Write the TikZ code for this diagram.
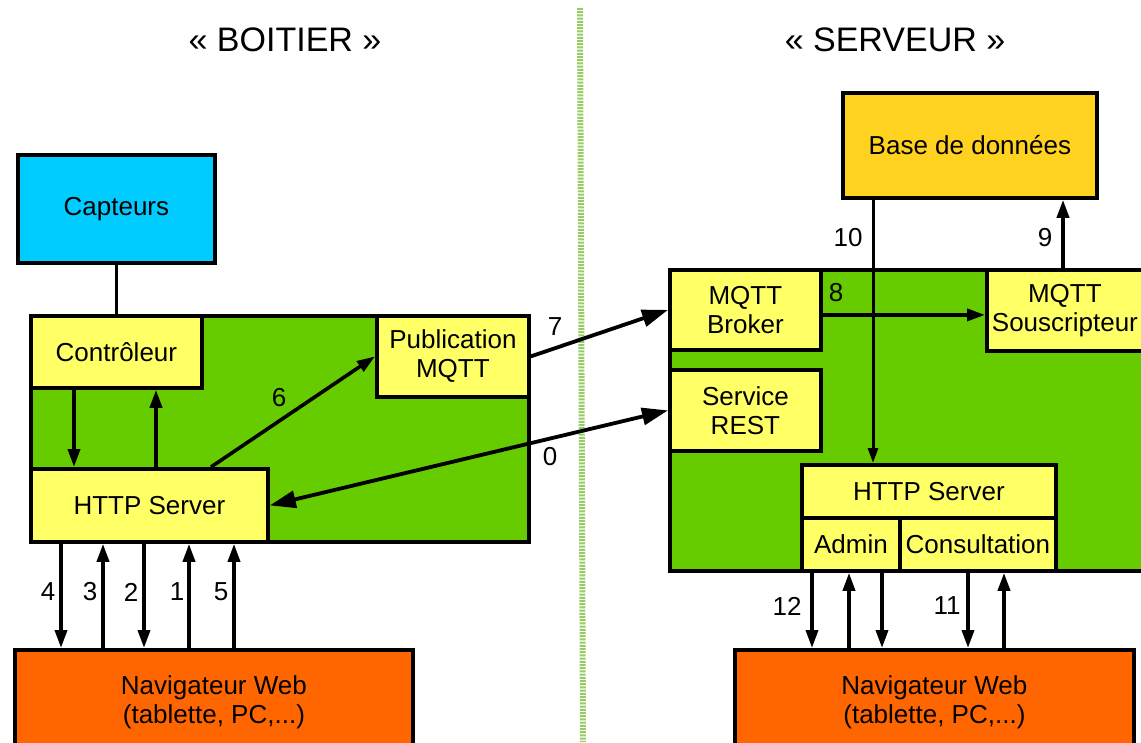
\documentclass[tikz,border=0pt]{standalone}
\usepackage{fontspec}
\setmainfont{Liberation Sans}
\usetikzlibrary{arrows.meta,calc}
\definecolor{grn}{RGB}{102,204,0}
\definecolor{ylw}{RGB}{255,255,102}
\definecolor{org}{RGB}{255,102,0}
\definecolor{cyn}{RGB}{0,204,255}
\definecolor{gold}{RGB}{255,210,32}
\definecolor{divg}{RGB}{150,204,100}
\begin{document}
\begin{tikzpicture}[x=1pt,y=-1pt,
  every node/.style={font=\fontsize{26}{29}\selectfont},
  box/.style={draw, line width=3.8pt, inner sep=0pt, anchor=north west, align=center},
  ttl/.style={font=\fontsize{34}{38}\selectfont},
  arr/.style={line width=3.6pt, -{Triangle[length=18pt,width=12pt]}},
  bigarr/.style={line width=3.8pt, -{Triangle[length=26pt,width=17pt]}},
  thinarr/.style={line width=3pt, -{Triangle[length=15pt,width=10pt]}},
  plain/.style={line width=3.8pt}]
\useasboundingbox (0,0) rectangle (1141,742);
\clip (0,0) rectangle (1141,742);
\fill[white] (0,0) rectangle (1141,742);

% divider
\draw[line width=6pt, divg, dash pattern=on 2pt off 1.2pt] (580,8) -- (583,742);

% titles
\node[ttl] (tL) at (285,40) {« BOITIER »};
\node[ttl] (tR) at (895,40) {« SERVEUR »};

% left side
\node[box, fill=cyn, minimum width=197pt, minimum height=108pt] (capt) at (16,153) {Capteurs};
\node[box, fill=grn, minimum width=498pt, minimum height=226pt] (grnL) at (29,314) {};
\node[box, fill=ylw, minimum width=171pt, minimum height=72pt] (ctrl) at (29,314) {Contrôleur};
\node[box, fill=ylw, minimum width=152pt, minimum height=81pt] (pub) at (375,314) {Publication\\MQTT};
\node[box, fill=ylw, minimum width=237pt, minimum height=73pt] (httpL) at (29,467) {HTTP Server};
\node[box, fill=org, minimum width=398pt, minimum height=104pt] (navL) at (13,648) {Navigateur Web\\(tablette, PC,...)};

% right side
\node[box, fill=gold, minimum width=254pt, minimum height=105pt] (db) at (841,91) {Base de données};
\node[box, fill=grn, minimum width=500pt, minimum height=301pt] (grnR) at (668,268) {};
\node[box, fill=ylw, minimum width=151pt, minimum height=80pt] (broker) at (668,268) {MQTT\\Broker};
\node[box, fill=ylw, minimum width=151pt, minimum height=81pt] (rest) at (668,368) {Service\\REST};
\node[box, fill=ylw, minimum width=160pt, minimum height=81pt] (sousc) at (985,268) {\hspace*{-4pt}MQTT\\\hspace*{-4pt}Souscripteur};
\node[box, fill=ylw, minimum width=254pt, minimum height=53pt] (httpR) at (800,463) {HTTP Server};
\node[box, fill=ylw, minimum width=98pt, minimum height=53pt] (admin) at (800,516) {Admin};
\node[box, fill=ylw, minimum width=156pt, minimum height=53pt] (consult) at (898,516) {Consultation};
\node[box, fill=org, minimum width=399pt, minimum height=104pt] (navR) at (733,648) {Navigateur Web\\(tablette, PC,...)};

% left connectors
\draw[plain] (capt.south) -- (capt.south |- ctrl.north);
\coordinate (c1) at ($(ctrl.south west)+(45,0)$);
\draw[arr] (c1) -- (c1 |- httpL.north);
\coordinate (c2) at ($(ctrl.south west)+(127,0)$);
\draw[arr] (c2 |- httpL.north) -- (c2);
\draw[arr] ($(httpL.north west)+(182,0)$) -- (pub.west);
\draw[bigarr] (pub.east) -- (broker.west);
\draw[line width=3.8pt, {Triangle[length=26pt,width=17pt]}-{Triangle[length=26pt,width=17pt]}] (httpL.east) -- (rest.west);

\coordinate (b4) at ($(httpL.south west)+(32,0)$);
\coordinate (b3) at ($(httpL.south west)+(74,0)$);
\coordinate (b2) at ($(httpL.south west)+(115,0)$);
\coordinate (b1) at ($(httpL.south west)+(160,0)$);
\coordinate (b5) at ($(httpL.south west)+(205,0)$);
\draw[arr] (b4) -- (b4 |- navL.north);
\draw[arr] (b3 |- navL.north) -- (b3);
\draw[arr] (b2) -- (b2 |- navL.north);
\draw[arr] (b1 |- navL.north) -- (b1);
\draw[arr] (b5 |- navL.north) -- (b5);

% right connectors
\coordinate (c8) at ($(broker.east)+(0,5)$);
\draw[arr] (c8) -- (c8 -| sousc.west);
\coordinate (c9) at ($(sousc.north west)+(78,0)$);
\draw[arr] (c9) -- (c9 |- db.south);
\coordinate (c10) at ($(db.south west)+(32,0)$);
\draw[thinarr] (c10) -- (c10 |- httpR.north);

\coordinate (r1) at ($(admin.south west)+(12,0)$);
\coordinate (r2) at ($(admin.south west)+(49,0)$);
\coordinate (r3) at ($(admin.south west)+(82,0)$);
\coordinate (r4) at ($(admin.south west)+(168,0)$);
\coordinate (r5) at ($(admin.south west)+(204,0)$);
\draw[arr] (r1) -- (r1 |- navR.north);
\draw[arr] (r2 |- navR.north) -- (r2);
\draw[arr] (r3) -- (r3 |- navR.north);
\draw[arr] (r4) -- (r4 |- navR.north);
\draw[arr] (r5 |- navR.north) -- (r5);

% labels
\node (l4) at (48,592) {4};
\node (l3) at (90,592) {3};
\node (l2) at (131,592) {2};
\node (l1) at (177,592) {1};
\node (l5) at (221,592) {5};
\node (l6) at (279,398) {6};
\node (l7) at (555,327) {7};
\node (l0) at (550,457) {0};
\node (l8) at (836,293) {8};
\node (l10) at (848,238) {10};
\node (l9) at (1045,238) {9};
\node (l12) at (787,606) {12};
\node (l11) at (947,606) {11};
\end{tikzpicture}
\end{document}
